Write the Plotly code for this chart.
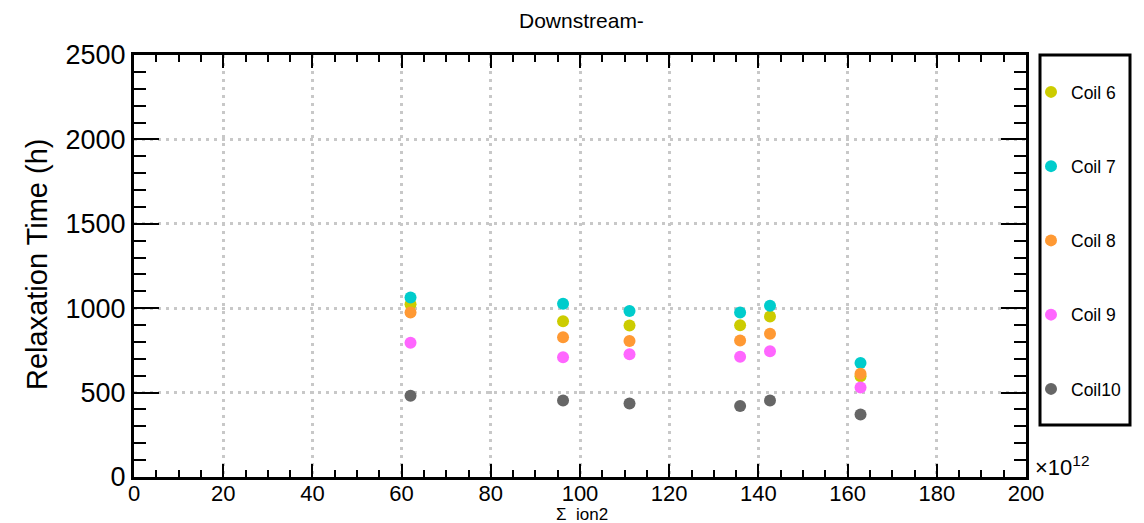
import plotly.graph_objects as go

x_vals = [62.0, 96.2, 111.1, 135.9, 142.6, 162.9]
coil6 = [1024, 923, 897, 899, 951, 597]
coil7 = [1063, 1026, 984, 974, 1014, 676]
coil8 = [974, 828, 806, 808, 848, 611]
coil9 = [796, 710, 727, 713, 745, 530]
coil10 = [482, 453, 435, 421, 453, 370]
names = ["Coil 6", "Coil 7", "Coil 8", "Coil 9", "Coil10"]
colors = ["#cccc00", "#00cccc", "#ff9933", "#ff66ff", "#666666"]
series = [coil6, coil7, coil8, coil9, coil10]

FONT = "Liberation Sans, Arial, Helvetica, sans-serif"

fig = go.Figure()
for i, (n, c, s) in enumerate(zip(names, colors, series)):
    fig.add_trace(go.Scatter(x=x_vals, y=s, mode="markers", name=n,
                             legendgroup=n,
                             marker=dict(color=c, size=12, line=dict(width=0))))

W, H = 1144, 523
L, R, T, B = 134, 118, 55, 46
pw, ph = W - L - R, H - T - B

def px_x(p):
    return (p - L) / pw

def px_y(p):
    return (H - B - p) / ph

axis_common = dict(showline=True, linecolor="black", linewidth=3, mirror="allticks",
                   ticks="inside", tickcolor="black", tickwidth=2,
                   showgrid=True, gridcolor="#c8c8c8", griddash="3px,5px", gridwidth=2.5,
                   zeroline=False)

fig.update_xaxes(range=[0, 200], dtick=20, tick0=0, ticklen=13,
                 tickfont=dict(family=FONT, size=22, color="black"),
                 ticklabelstandoff=-5,
                 minor=dict(ticks="inside", dtick=5, ticklen=7, tickcolor="black", tickwidth=2, showgrid=False),
                 **axis_common)
fig.update_yaxes(range=[0, 2500], dtick=500, tick0=0, ticklen=25,
                 tickfont=dict(family=FONT, size=27, color="black"),
                 minor=dict(ticks="inside", dtick=100, ticklen=12, tickcolor="black", tickwidth=2, showgrid=False),
                 **axis_common)

fig.update_layout(
    width=W, height=H,
    margin=dict(l=L, r=R, t=T, b=B),
    plot_bgcolor="white", paper_bgcolor="white",
    font=dict(family=FONT, color="black"),
    showlegend=True,
    legend=dict(x=px_x(1031), xanchor="left", y=px_y(74), yanchor="top",
                bgcolor="rgba(0,0,0,0)", borderwidth=0,
                font=dict(family=FONT, size=17.5, color="black"),
                tracegroupgap=48.5, itemwidth=30),
    shapes=[dict(type="rect", xref="paper", yref="paper",
                 x0=px_x(1040), x1=px_x(1130), y0=px_y(425), y1=px_y(55),
                 line=dict(color="black", width=3), fillcolor="rgba(0,0,0,0)")],
    annotations=[
        dict(text="Downstream-", xref="paper", yref="paper", x=px_x(581), y=px_y(20),
             xanchor="center", yanchor="middle", showarrow=False,
             font=dict(family=FONT, size=21, color="black")),
        dict(text="Relaxation Time (h)", xref="paper", yref="paper", x=px_x(37), y=px_y(265),
             xanchor="center", yanchor="middle", textangle=-90, showarrow=False,
             font=dict(family=FONT, size=29, color="black")),
        dict(text="Σ  ion2", xref="paper", yref="paper", x=px_x(582), y=px_y(514),
             xanchor="center", yanchor="middle", showarrow=False,
             font=dict(family=FONT, size=17, color="black")),
        dict(text="×10<sup>12</sup>", xref="paper", yref="paper", x=px_x(1033), y=px_y(466),
             xanchor="left", yanchor="middle", showarrow=False,
             font=dict(family=FONT, size=22, color="black")),
    ],
)

fig.write_html("out.html")
